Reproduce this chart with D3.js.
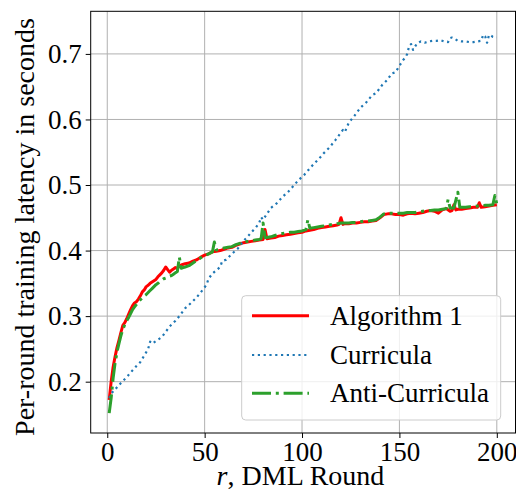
<!DOCTYPE html>
<html>
<head>
<meta charset="utf-8">
<script src="https://cdn.jsdelivr.net/npm/d3@7"></script>
<style>
  body { margin: 0; background: #fff; }
  svg { display: block; }
</style>
</head>
<body>
<svg id="chart"></svg>
<script>
// Algorithm 1 (red, solid)
const algRounds = [1,2,3,4,5,6,7,8,9,10,11,12,13,14,15,16,17,18,19,20,21,22,23,24,25,26,27,28,29,30,31,32,33,34,35,36,37,38,40,42,44,46,48,50,52,54,56,58,60,62,64,66,68,70,72,74,76,78,80,81,82,84,86,88,90,92,94,96,98,100,102,104,106,108,110,112,114,116,118,119,120,121,122,124,126,128,130,132,134,136,138,140,142,144,146,148,150,152,154,156,158,160,162,164,166,168,170,172,174,176,177,178,179,180,182,184,186,188,190,191,192,194,196,198,200];
const algLatency = [0.172,0.200,0.222,0.238,0.252,0.263,0.275,0.286,0.290,0.296,0.303,0.310,0.316,0.320,0.322,0.326,0.331,0.337,0.340,0.345,0.347,0.350,0.352,0.354,0.356,0.360,0.363,0.366,0.370,0.375,0.371,0.367,0.370,0.372,0.374,0.373,0.376,0.378,0.380,0.381,0.384,0.386,0.390,0.393,0.395,0.398,0.399,0.400,0.402,0.404,0.405,0.408,0.410,0.412,0.413,0.414,0.415,0.416,0.417,0.432,0.418,0.419,0.420,0.422,0.423,0.424,0.425,0.426,0.427,0.428,0.430,0.431,0.432,0.434,0.435,0.436,0.437,0.438,0.439,0.440,0.450,0.440,0.441,0.441,0.442,0.442,0.443,0.444,0.444,0.445,0.446,0.450,0.455,0.456,0.456,0.455,0.455,0.454,0.456,0.457,0.456,0.457,0.458,0.460,0.461,0.460,0.457,0.462,0.464,0.460,0.461,0.470,0.462,0.463,0.463,0.464,0.465,0.466,0.466,0.473,0.466,0.467,0.468,0.469,0.470];

// Curricula (blue, dotted)
const curRounds = [1,2,4,7,10,12,15,17,19,21,22,23,25,28,30,32,35,37,40,43,46,49,51,52,54,56,58,59,61,64,67,70,72,74,76,78,79,80,82,84,87,90,93,96,98,101,103,106,109,111,114,117,119,121,122,124,127,130,133,136,138,141,144,146,148,150,152,153,154,155,156,157,159,161,163,165,167,169,171,173,175,176,177,178,180,182,184,186,188,190,192,193,194,195,196,197,198,200];
const curLatency = [0.175,0.182,0.188,0.198,0.207,0.214,0.224,0.230,0.240,0.250,0.261,0.258,0.262,0.268,0.276,0.284,0.293,0.300,0.312,0.320,0.329,0.340,0.348,0.357,0.365,0.370,0.375,0.384,0.386,0.395,0.403,0.415,0.421,0.428,0.434,0.442,0.451,0.447,0.456,0.465,0.472,0.482,0.490,0.500,0.507,0.515,0.522,0.532,0.541,0.548,0.557,0.568,0.576,0.584,0.581,0.595,0.606,0.618,0.626,0.637,0.640,0.652,0.661,0.670,0.672,0.682,0.691,0.694,0.700,0.712,0.715,0.706,0.716,0.719,0.717,0.719,0.720,0.720,0.721,0.719,0.718,0.724,0.725,0.724,0.720,0.719,0.719,0.718,0.718,0.719,0.720,0.729,0.727,0.717,0.729,0.728,0.726,0.725];

// Anti-Curricula (green, dash-dot)
const antiRounds = [1,2,3,4,5,6,7,8,9,10,11,12,13,14,15,16,17,18,19,20,21,22,23,24,25,26,27,28,29,30,31,32,33,34,35,36,37,38,39,40,42,44,46,48,50,52,54,55,56,58,60,62,64,66,68,70,72,74,76,78,79,80,81,82,84,86,88,90,92,94,96,98,100,102,103,104,106,108,110,112,114,116,118,120,122,124,126,128,130,132,134,136,138,140,142,144,146,148,150,152,154,156,158,160,162,164,166,168,170,172,174,175,176,178,180,181,182,184,186,188,190,192,194,196,198,199,200];
const antiLatency = [0.152,0.175,0.205,0.228,0.245,0.258,0.270,0.280,0.287,0.293,0.298,0.304,0.310,0.314,0.318,0.322,0.325,0.328,0.331,0.333,0.336,0.339,0.342,0.345,0.348,0.350,0.353,0.355,0.357,0.358,0.360,0.361,0.362,0.364,0.366,0.368,0.390,0.373,0.374,0.375,0.377,0.381,0.385,0.389,0.392,0.395,0.398,0.413,0.401,0.402,0.404,0.405,0.406,0.409,0.411,0.413,0.414,0.415,0.416,0.417,0.418,0.442,0.420,0.420,0.421,0.423,0.425,0.426,0.427,0.428,0.428,0.429,0.430,0.432,0.447,0.434,0.435,0.436,0.437,0.438,0.439,0.440,0.441,0.442,0.442,0.442,0.443,0.443,0.444,0.445,0.445,0.446,0.447,0.451,0.456,0.457,0.457,0.457,0.457,0.457,0.458,0.458,0.458,0.459,0.460,0.461,0.461,0.462,0.462,0.463,0.464,0.478,0.465,0.465,0.489,0.466,0.466,0.466,0.467,0.467,0.468,0.468,0.469,0.469,0.470,0.484,0.471];

const xTicks = [0, 50, 100, 150, 200];
const yTicks = [0.2, 0.3, 0.4, 0.5, 0.6, 0.7];

const series = [
  { name: 'Algorithm 1', rounds: algRounds, values: algLatency, color: '#ff0000', dash: null, width: 3 },
  { name: 'Curricula', rounds: curRounds, values: curLatency, color: '#1f77b4', dash: '2.2,3.6', width: 2.2 },
  { name: 'Anti-Curricula', rounds: antiRounds, values: antiLatency, color: '#2ca02c', dash: '19,4.8,3,4.8', width: 3 }
];

const W = 516, H = 501;
const plot = { left: 90.7, right: 515.5, top: 11.3, bottom: 433 };
const fontFamily = 'Liberation Serif';
const fontSize = 27;
const labelSize = 28;

const svg = d3.select('#chart').attr('width', W).attr('height', H)
  .attr('font-family', fontFamily);
svg.append('rect').attr('width', W).attr('height', H).attr('fill', '#fff');

const x = d3.scaleLinear().domain([-8.5, 209.6]).range([plot.left, plot.right]);
const y = d3.scaleLinear().domain([0.1217, 0.765]).range([plot.bottom, plot.top]);

// grid
const grid = svg.append('g').attr('class', 'grid');
grid.selectAll('line.gx').data(xTicks).join('line')
  .attr('x1', d => x(d)).attr('x2', d => x(d))
  .attr('y1', plot.top).attr('y2', plot.bottom)
  .attr('stroke', '#b0b0b0').attr('stroke-width', 1);
grid.selectAll('line.gy').data(yTicks).join('line')
  .attr('y1', d => y(d)).attr('y2', d => y(d))
  .attr('x1', plot.left).attr('x2', plot.right)
  .attr('stroke', '#b0b0b0').attr('stroke-width', 1);

// lines
svg.append('clipPath').attr('id', 'plot-clip')
  .append('rect').attr('x', plot.left).attr('y', plot.top)
  .attr('width', plot.right - plot.left).attr('height', plot.bottom - plot.top);

const line = d3.line().x(d => x(d[0])).y(d => y(d[1]));
const lines = svg.append('g').attr('clip-path', 'url(#plot-clip)');
series.forEach(s => {
  const pts = s.rounds.map((r, i) => [r, s.values[i]]);
  lines.append('path')
    .datum(pts)
    .attr('d', line)
    .attr('fill', 'none')
    .attr('stroke', s.color)
    .attr('stroke-width', s.width)
    .attr('stroke-linejoin', 'round')
    .attr('stroke-dasharray', s.dash);
});

// axes
const xAxis = d3.axisBottom(x).tickValues(xTicks).tickSize(5).tickSizeOuter(0).tickPadding(4).tickFormat(d3.format('d'));
const yAxis = d3.axisLeft(y).tickValues(yTicks).tickSize(5).tickSizeOuter(0).tickPadding(4).tickFormat(d3.format('.1f'));

const xg = svg.append('g').attr('transform', `translate(0,${plot.bottom})`).call(xAxis);
const yg = svg.append('g').attr('transform', `translate(${plot.left},0)`).call(yAxis);
[xg, yg].forEach(g => {
  g.attr('font-family', fontFamily).attr('font-size', fontSize);
  g.select('.domain').remove();
  g.selectAll('.tick line').attr('stroke', '#000').attr('stroke-width', 1);
  g.selectAll('.tick text').attr('fill', '#000');
});

// spines
svg.append('rect')
  .attr('x', plot.left).attr('y', plot.top)
  .attr('width', plot.right - plot.left).attr('height', plot.bottom - plot.top)
  .attr('fill', 'none').attr('stroke', '#000').attr('stroke-width', 1);

// axis labels
const xl = svg.append('text')
  .attr('x', 300.5)
  .attr('y', 485)
  .attr('text-anchor', 'middle')
  .attr('font-family', fontFamily)
  .attr('font-size', labelSize);
xl.append('tspan').attr('font-style', 'italic').text('r');
xl.append('tspan').text(', DML Round');

svg.append('text')
  .attr('transform', 'translate(34,227) rotate(-90)')
  .attr('text-anchor', 'middle')
  .attr('font-family', fontFamily)
  .attr('font-size', labelSize)
  .text('Per-round training latency in seconds');

// legend
const legend = svg.append('g');
legend.append('rect')
  .attr('x', 241.7).attr('y', 295.7)
  .attr('width', 259).attr('height', 124.3)
  .attr('rx', 4)
  .attr('fill', '#fff').attr('fill-opacity', 0.8)
  .attr('stroke', '#cccccc').attr('stroke-width', 1);
const legendY = [315.7, 355, 393.3];
series.forEach((s, i) => {
  legend.append('line')
    .attr('x1', 252).attr('x2', 309)
    .attr('y1', legendY[i]).attr('y2', legendY[i])
    .attr('stroke', s.color)
    .attr('stroke-width', s.width)
    .attr('stroke-dasharray', s.dash);
  legend.append('text')
    .attr('x', 330).attr('y', legendY[i])
    .attr('dy', '0.33em')
    .attr('font-family', fontFamily)
    .attr('font-size', fontSize)
    .text(s.name);
});
</script>
</body>
</html>
